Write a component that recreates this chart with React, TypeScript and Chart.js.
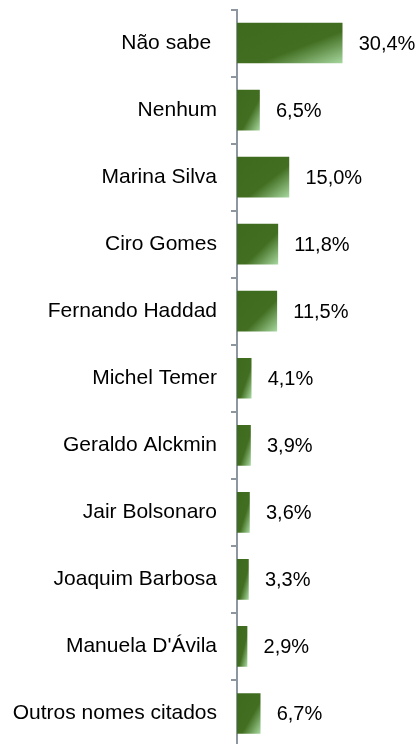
import React, { useEffect, useRef } from "react";
import { Chart, registerables } from "chart.js";

Chart.register(...registerables);

const categories = [
  "Não sabe ",
  "Nenhum",
  "Marina Silva",
  "Ciro Gomes",
  "Fernando Haddad",
  "Michel Temer",
  "Geraldo Alckmin",
  "Jair Bolsonaro",
  "Joaquim Barbosa",
  "Manuela D'Ávila",
  "Outros nomes citados",
];
const values = [30.4, 6.5, 15.0, 11.8, 11.5, 4.1, 3.9, 3.6, 3.3, 2.9, 6.7];
const valueLabels = ["30,4%", "6,5%", "15,0%", "11,8%", "11,5%", "4,1%", "3,9%", "3,6%", "3,3%", "2,9%", "6,7%"];

const FONT = "'Liberation Sans', Arial, sans-serif";

const valueLabelPlugin = {
  id: "valueLabels",
  afterDatasetsDraw(chart: any) {
    const ctx = chart.ctx;
    const meta = chart.getDatasetMeta(0);
    ctx.save();
    ctx.font = `20px ${FONT}`;
    ctx.fillStyle = "#000";
    ctx.textAlign = "left";
    ctx.textBaseline = "middle";
    meta.data.forEach((el: any, i: number) => {
      ctx.fillText(valueLabels[i], el.x + 16.5, el.y + 1);
    });
    ctx.restore();
  },
};

export default function App() {
  const ref = useRef<HTMLCanvasElement>(null);
  useEffect(() => {
    if (!ref.current) return;
    const chart = new Chart(ref.current, {
      type: "bar",
      data: {
        labels: categories,
        datasets: [
          {
            data: values,
            borderWidth: 0,
            barThickness: 40,
            backgroundColor: (c: any) => {
              const ch = c.chart;
              const xs = ch.scales?.x;
              const ys = ch.scales?.y;
              if (!xs || !ys || c.dataIndex === undefined) return "#3F6B1E";
              const x0 = xs.getPixelForValue(0);
              const x1 = xs.getPixelForValue(values[c.dataIndex]);
              const yc = ys.getPixelForValue(c.dataIndex);
              if (![x0, x1, yc].every((v) => Number.isFinite(v))) return "#3F6B1E";
              const y0 = yc - 20;
              const w = Math.max(1, x1 - x0);
              const h = 40;
              const k = (2 * w * h) / (h * h + w * w);
              const g = ch.ctx.createLinearGradient(x0, y0, x0 + h * k, y0 + w * k);
              g.addColorStop(0, "#3E6A1D");
              g.addColorStop(0.6, "#416E20");
              g.addColorStop(1, "#A6D69E");
              return g;
            },
          },
        ],
      },
      options: {
        indexAxis: "y",
        animation: false,
        responsive: false,
        maintainAspectRatio: false,
        layout: { padding: { top: 9.5, left: 0, right: 43.6, bottom: 0 } },
        plugins: { legend: { display: false }, tooltip: { enabled: false } },
        scales: {
          x: { display: false, min: 0, max: 40 },
          y: {
            afterFit: (s: any) => {
              s.width = 237;
              s.paddingTop = 0;
              s.paddingBottom = 0;
            },
            border: { display: true, color: "#8E96A0", width: 2 },
            grid: {
              display: true,
              drawOnChartArea: false,
              drawTicks: true,
              tickLength: 6,
              color: "#8E96A0",
              lineWidth: 2,
              offset: true,
            },
            ticks: {
              color: "#000",
              padding: 14,
              font: { family: FONT, size: 21 },
              autoSkip: false,
            },
          },
        },
      },
      plugins: [valueLabelPlugin],
    });
    return () => chart.destroy();
  }, []);
  return (
    <div style={{ position: "absolute", left: 0, top: 0, width: 419, height: 747, background: "#fff" }}>
      <canvas ref={ref} width={419} height={747} style={{ display: "block" }} />
    </div>
  );
}
